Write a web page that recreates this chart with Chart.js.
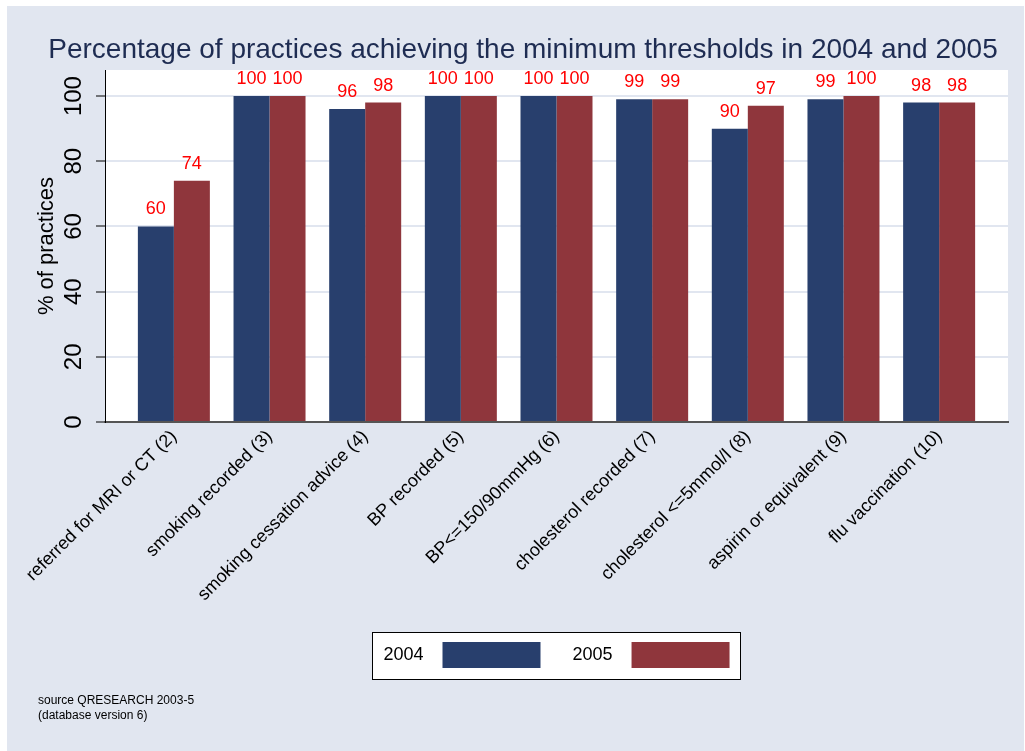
<!DOCTYPE html>
<html>
<head>
<meta charset="utf-8">
<script src="https://cdn.jsdelivr.net/npm/chart.js@4.4.0/dist/chart.umd.min.js"></script>
<style>
  html, body { margin: 0; padding: 0; background: #ffffff; }
  #wrap { position: absolute; left: 7px; top: 6px; width: 1017px; height: 745px; background: #e1e6f0; }
  canvas { display: block; }
</style>
</head>
<body>
<div id="wrap"><canvas id="c"></canvas></div>
<script>
const categories = [
  'referred for MRI or CT (2)',
  'smoking recorded (3)',
  'smoking cessation advice (4)',
  'BP recorded (5)',
  'BP<=150/90mmHg (6)',
  'cholesterol recorded (7)',
  'cholesterol <=5mmol/l (8)',
  'aspirin or equivalent (9)',
  'flu vaccination (10)'
];
const seriesNames = ['2004', '2005'];
const values2004 = [60, 100, 96, 100, 100, 99, 90, 99, 98];
const values2005 = [74, 100, 98, 100, 100, 99, 97, 100, 98];
const yTicks = [0, 20, 40, 60, 80, 100];

const FONT = '"Liberation Sans", Arial, Helvetica, sans-serif';
const BLUE = '#283f6d';
const RED = '#8f363c';

const bgPlugin = {
  id: 'bgPlugin',
  beforeDraw(chart) {
    const ctx = chart.ctx;
    const a = chart.chartArea;
    ctx.save();
    ctx.fillStyle = '#ffffff';
    ctx.fillRect(a.left, a.top, a.right - a.left, a.bottom - a.top);
    const lg = chart.legend;
    if (lg && lg.legendHitBoxes && lg.legendHitBoxes.length) {
      let l = Infinity, r = -Infinity, t = Infinity, b = -Infinity;
      lg.legendHitBoxes.forEach(h => {
        l = Math.min(l, h.left); r = Math.max(r, h.left + h.width);
        t = Math.min(t, h.top); b = Math.max(b, h.top + h.height);
      });
      const x0 = Math.round(l - 11) + 0.5, y0 = Math.round(t - 10) + 0.5;
      const x1 = Math.round(r + 10) + 0.5, y1 = Math.round(b + 11) + 0.5;
      ctx.fillStyle = '#ffffff';
      ctx.fillRect(x0, y0, x1 - x0, y1 - y0);
      ctx.strokeStyle = '#000000';
      ctx.lineWidth = 1;
      ctx.strokeRect(x0, y0, x1 - x0, y1 - y0);
    }
    ctx.restore();
  }
};

const labelPlugin = {
  id: 'labelPlugin',
  afterDatasetsDraw(chart) {
    const ctx = chart.ctx;
    ctx.save();
    ctx.font = '18px ' + FONT;
    ctx.fillStyle = '#ff0000';
    ctx.textAlign = 'center';
    ctx.textBaseline = 'middle';
    chart.data.datasets.forEach((ds, di) => {
      const meta = chart.getDatasetMeta(di);
      meta.data.forEach((bar, i) => {
        ctx.fillText(String(ds.data[i].y), bar.x, bar.y - 17);
      });
    });
    ctx.restore();
  }
};

new Chart(document.getElementById('c'), {
  type: 'bar',
  data: {
    datasets: [
      { label: seriesNames[0], data: values2004.map((v, i) => ({ x: i, y: v })), backgroundColor: BLUE, borderWidth: 0 },
      { label: seriesNames[1], data: values2005.map((v, i) => ({ x: i, y: v })), backgroundColor: RED, borderWidth: 0 }
    ]
  },
  options: {
    responsive: true,
    maintainAspectRatio: false,
    animation: false,
    layout: { padding: { left: 31, right: 16, top: 0, bottom: 0 } },
    datasets: { bar: { categoryPercentage: 0.7527, barPercentage: 1.0 } },
    scales: {
      x: {
        type: 'linear',
        offset: false,
        min: -0.72,
        max: 8.72,
        afterBuildTicks(scale) { scale.ticks = categories.map((c, i) => ({ value: i })); },
        afterFit(scale) { scale.height = 188; scale.paddingLeft = 0; scale.paddingRight = 0; },
        grid: { display: true, drawOnChartArea: false, drawTicks: false },
        border: { color: '#555555', width: 2 },
        ticks: {
          autoSkip: false,
          minRotation: 45,
          maxRotation: 45,
          padding: 4,
          color: '#000000',
          font: { family: FONT, size: 18 },
          callback: (v) => categories[v]
        }
      },
      y: {
        min: 0,
        max: 108,
        afterBuildTicks(scale) { scale.ticks = yTicks.map(v => ({ value: v })); },
        afterFit(scale) { scale.width = 67; scale.paddingTop = 0; scale.paddingBottom = 0; },
        grid: { color: '#e1e6f0', lineWidth: 2, tickLength: 9, tickColor: '#000000', tickWidth: 1 },
        border: { color: '#000000', width: 1 },
        ticks: {
          includeBounds: false,
          minRotation: 90,
          maxRotation: 90,
          crossAlign: 'center',
          padding: 2,
          color: '#000000',
          font: { family: FONT, size: 24 }
        },
        title: {
          display: true,
          text: '% of practices',
          color: '#000000',
          font: { family: FONT, size: 22, lineHeight: 0.8 },
          padding: { top: 0, bottom: 0 }
        }
      }
    },
    plugins: {
      title: {
        display: true,
        text: 'Percentage of practices achieving the minimum thresholds in 2004 and 2005',
        color: '#1e2c52',
        font: { family: FONT, size: 28, weight: 'normal', lineHeight: 1.2 },
        padding: { top: 27, bottom: 3.4 }
      },
      subtitle: {
        display: true,
        position: 'bottom',
        align: 'start',
        text: ['source QRESEARCH 2003-5', '(database version 6)'],
        color: '#000000',
        font: { family: FONT, size: 12, lineHeight: 1.25 },
        padding: { top: 15.5, bottom: 27.5 }
      },
      legend: {
        display: true,
        position: 'bottom',
        fullSize: false,
        rtl: true,
        reverse: true,
        labels: {
          boxWidth: 98,
          boxHeight: 26,
          padding: 32,
          color: '#000000',
          font: { family: FONT, size: 18 },
          generateLabels(chart) {
            return chart.data.datasets.map((ds, i) => ({
              text: ds.label + '  ',
              fillStyle: ds.backgroundColor,
              strokeStyle: ds.backgroundColor,
              lineWidth: 0,
              hidden: false,
              datasetIndex: i
            }));
          }
        }
      },
      tooltip: { enabled: false }
    }
  },
  plugins: [bgPlugin, labelPlugin]
});
</script>
</body>
</html>
